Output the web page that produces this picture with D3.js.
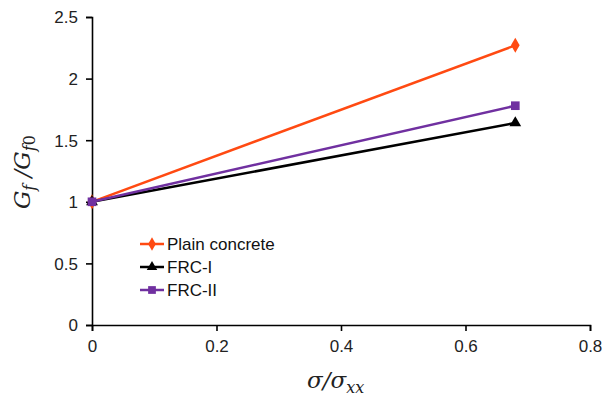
<!DOCTYPE html>
<html>
<head>
<meta charset="utf-8">
<script src="https://cdn.jsdelivr.net/npm/d3@7"></script>
<style>
  body { margin: 0; background: #fff; }
  svg { display: block; }
  .tick text { font-family: "Liberation Sans", Arial, sans-serif; font-size: 17px; fill: #222; }
</style>
</head>
<body>
<svg id="chart"></svg>
<script>
// data
const xValues = [0, 0.68];
const seriesNames = ['Plain concrete', 'FRC-I', 'FRC-II'];
const plainValues = [1, 2.27];
const frc1Values = [1, 1.64];
const frc2Values = [1, 1.78];
const xTicks = [0, 0.2, 0.4, 0.6, 0.8];
const yTicks = [0, 0.5, 1, 1.5, 2, 2.5];

const width = 605, height = 399;
const margin = {left: 92, right: 15, top: 17, bottom: 74};

const svg = d3.select('#chart')
  .attr('width', width)
  .attr('height', height);

const x = d3.scaleLinear().domain([0, 0.8]).range([margin.left, width - margin.right]);
const y = d3.scaleLinear().domain([0, 2.5]).range([height - margin.bottom, margin.top]);

// axes
const xAxis = svg.append('g')
  .attr('transform', `translate(0,${y(0)})`)
  .call(d3.axisBottom(x).tickValues(xTicks).tickFormat(d3.format('')).tickSizeOuter(0).tickSize(6).tickPadding(6));
const yAxis = svg.append('g')
  .attr('transform', `translate(${x(0)},0)`)
  .call(d3.axisLeft(y).tickValues(yTicks).tickFormat(d3.format('')).tickSizeOuter(0).tickSize(6).tickPadding(8));

[xAxis, yAxis].forEach(a => {
  a.select('.domain').attr('stroke', '#000').attr('stroke-width', 1.6);
  a.selectAll('.tick line').attr('stroke', '#000').attr('stroke-width', 1.6);
});
xAxis.selectAll('.tick text').attr('dy', '0.9em');
yAxis.selectAll('.tick text').attr('dy', '0.35em');

// series
const series = [
  {name: seriesNames[0], values: plainValues, color: '#FF4A12', symbol: d3.symbolDiamond, size: 65},
  {name: seriesNames[1], values: frc1Values, color: '#000000', symbol: d3.symbolTriangle, size: 60},
  {name: seriesNames[2], values: frc2Values, color: '#7030A0', symbol: d3.symbolSquare, size: 75}
];

const line = d3.line().x(d => x(d[0])).y(d => y(d[1]));

series.forEach(s => {
  const pts = xValues.map((v, i) => [v, s.values[i]]);
  svg.append('path')
    .datum(pts)
    .attr('d', line)
    .attr('fill', 'none')
    .attr('stroke', s.color)
    .attr('stroke-width', 2.5);
  svg.selectAll(null)
    .data(pts)
    .enter().append('path')
      .attr('d', d3.symbol().type(s.symbol).size(s.size))
      .attr('transform', d => `translate(${x(d[0])},${y(d[1])})`)
      .attr('fill', s.color);
});

// legend
const legend = svg.append('g').attr('transform', 'translate(140,244)');
series.forEach((s, i) => {
  const row = legend.append('g').attr('transform', `translate(0,${i * 23})`);
  row.append('line')
    .attr('x1', 0).attr('x2', 24)
    .attr('stroke', s.color).attr('stroke-width', 2.5);
  row.append('path')
    .attr('d', d3.symbol().type(s.symbol).size(s.size * 0.8))
    .attr('transform', 'translate(12,0)')
    .attr('fill', s.color);
  row.append('text')
    .attr('x', 27).attr('dy', '0.35em')
    .style('font-family', '"Liberation Sans", Arial, sans-serif')
    .style('font-size', '17px')
    .attr('fill', '#111')
    .text(s.name);
});

// axis titles
const mathFont = '"DejaVu Serif", "Liberation Serif", serif';
const xt = svg.append('text')
  .attr('x', x(0.4) - 34).attr('y', 388)
  .style('font-family', mathFont).style('font-size', '23px').style('font-style', 'italic')
  .attr('fill', '#222');
xt.append('tspan').text('σ/σ');
xt.append('tspan').attr('dy', 5).style('font-size', '16px').text('xx');

const yt = svg.append('text')
  .attr('transform', `translate(30,${y(1.25) + 38}) rotate(-90)`)
  .style('font-family', mathFont).style('font-size', '23px').style('font-style', 'italic')
  .attr('fill', '#222');
yt.append('tspan').text('G');
yt.append('tspan').attr('dy', 5).style('font-size', '16px').text('f');
yt.append('tspan').attr('dy', -5).text(' /G');
yt.append('tspan').attr('dy', 5).style('font-size', '16px').text('f');
yt.append('tspan').style('font-size', '16px').style('font-style', 'normal').text('0');
</script>
</body>
</html>
